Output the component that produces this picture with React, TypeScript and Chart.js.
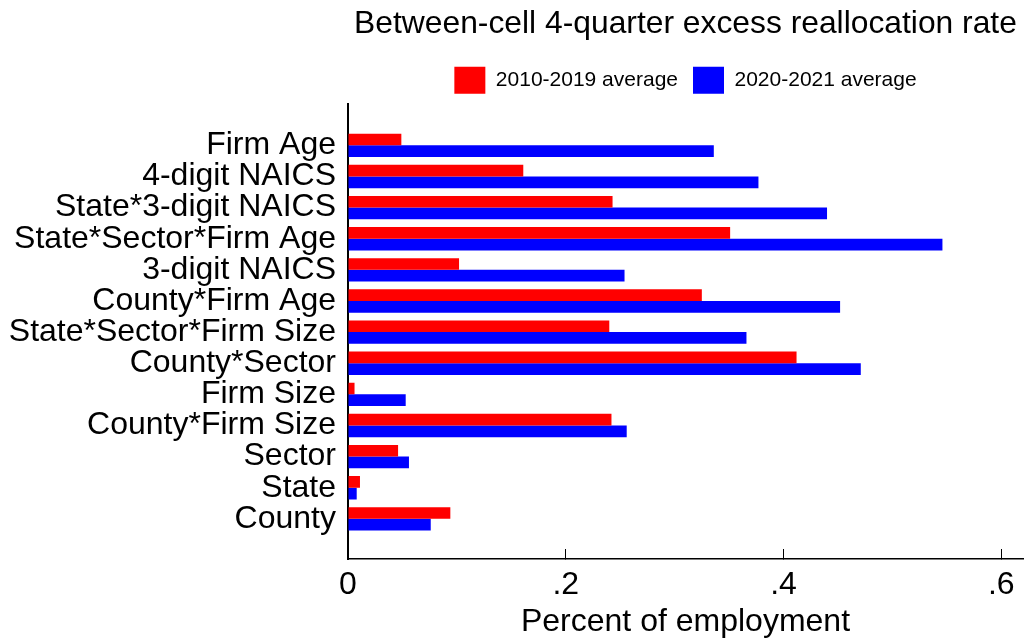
import React, { useEffect, useRef } from "react";
import { Chart, registerables } from "chart.js";

Chart.register(...registerables);

const categories: string[] = [
  "Firm Age",
  "4-digit NAICS",
  "State*3-digit NAICS",
  "State*Sector*Firm Age",
  "3-digit NAICS",
  "County*Firm Age",
  "State*Sector*Firm Size",
  "County*Sector",
  "Firm Size",
  "County*Firm Size",
  "Sector",
  "State",
  "County",
];

const avg2010to2019: number[] = [
  0.049, 0.161, 0.243, 0.351, 0.102, 0.325, 0.24, 0.412, 0.006, 0.242, 0.046, 0.011, 0.094,
];

const avg2020to2021: number[] = [
  0.336, 0.377, 0.44, 0.546, 0.254, 0.452, 0.366, 0.471, 0.053, 0.256, 0.056, 0.008, 0.076,
];

const seriesNames: string[] = ["2010-2019 average", "2020-2021 average"];

const xTickValues: number[] = [0, 0.2, 0.4, 0.6];
const xTickLabels: string[] = ["0", ".2", ".4", ".6"];

const FONT = "'Liberation Sans', Arial, Helvetica, sans-serif";

export default function App() {
  const canvasRef = useRef<HTMLCanvasElement | null>(null);

  useEffect(() => {
    if (!canvasRef.current) return;
    const chart = new Chart(canvasRef.current, {
      type: "bar",
      data: {
        datasets: [
          {
            label: seriesNames[0],
            data: avg2010to2019.map((v, i) => ({ x: v, y: i })),
            backgroundColor: "#FF0000",
            borderWidth: 0,
          },
          {
            label: seriesNames[1],
            data: avg2020to2021.map((v, i) => ({ x: v, y: i })),
            backgroundColor: "#0000FF",
            borderWidth: 0,
          },
        ],
      },
      options: {
        indexAxis: "y",
        responsive: false,
        maintainAspectRatio: false,
        animation: false,
        categoryPercentage: 0.75,
        barPercentage: 1,
        layout: { padding: { right: 4 } },
        scales: {
          y: {
            type: "linear",
            bounds: "data",
            offset: false,
            reverse: true,
            min: -1.34,
            max: 13.29,
            afterBuildTicks: (scale: any) => {
              scale.ticks = categories.map((_, i) => ({ value: i }));
            },
            afterFit: (scale: any) => {
              scale.width = 348;
            },
            grid: { display: false, drawTicks: false, offset: false },
            border: { display: true, color: "#000", width: 2 },
            ticks: {
              autoSkip: false,
              padding: 12,
              color: "#000",
              font: { family: FONT, size: 32 },
              callback: (_v: any, index: number) => categories[index],
            },
          },
          x: {
            type: "linear",
            bounds: "data",
            min: 0,
            max: 0.62,
            afterBuildTicks: (scale: any) => {
              scale.ticks = xTickValues.map((v) => ({ value: v }));
            },
            afterFit: (scale: any) => {
              scale.height = 82;
            },
            grid: {
              display: true,
              drawOnChartArea: false,
              drawTicks: true,
              tickLength: -10,
              color: "#000",
              lineWidth: 1,
            },
            border: { display: true, color: "#000", width: 1.5 },
            ticks: {
              autoSkip: false,
              maxRotation: 0,
              padding: 0,
              color: "#000",
              font: { family: FONT, size: 32, lineHeight: 2.28 },
              callback: (_v: any, index: number) => xTickLabels[index],
            },
            title: {
              display: true,
              text: "Percent of employment",
              color: "#000",
              font: { family: FONT, size: 32 },
              padding: { top: 0, bottom: 0 },
            },
          },
        },
        plugins: {
          title: {
            display: true,
            fullSize: false,
            text: "Between-cell 4-quarter excess reallocation rate",
            color: "#000",
            font: { family: FONT, size: 31.8, weight: "normal" },
            padding: { top: 5, bottom: 8.5 },
          },
          legend: {
            display: true,
            fullSize: false,
            position: "top",
            labels: {
              boxWidth: 31,
              boxHeight: 27,
              padding: 15,
              color: "#000",
              font: { family: FONT, size: 21 },
            },
          },
          tooltip: { enabled: false },
        },
      } as any,
    });
    return () => chart.destroy();
  }, []);

  return (
    <div style={{ position: "absolute", left: 0, top: 0, width: 1027, height: 641, background: "#fff" }}>
      <canvas ref={canvasRef} width={1027} height={641} style={{ display: "block" }} />
    </div>
  );
}
